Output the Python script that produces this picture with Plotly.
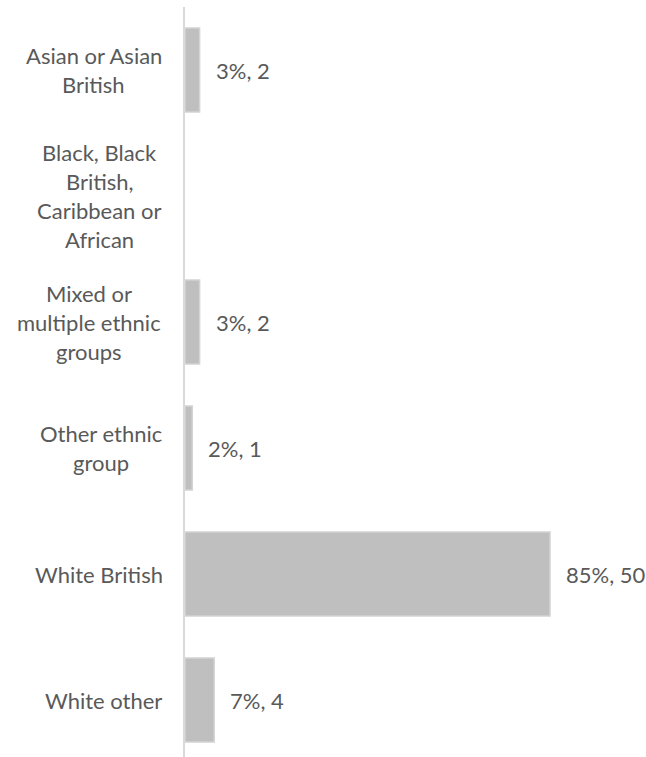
import plotly.graph_objects as go

categories = [
    ["Asian or Asian", "British"],
    ["Black, Black", "British,", "Caribbean or", "African"],
    ["Mixed or", "multiple ethnic", "groups"],
    ["Other ethnic", "group"],
    ["White British"],
    ["White other"],
]
counts = [2, 0, 2, 1, 50, 4]

total = sum(counts)
pcts = [c / total * 100 for c in counts]
cat_keys = [" ".join(c) for c in categories]

W, H = 646, 757
L, T = 185, 7
plot_w = W - L
px_per_pct = 4.307
xmax = plot_w / px_per_pct
band = 126.0
first_center = 70.0
top_idx = -(first_center - T) / band
bot_idx = (H - first_center) / band

FONT = "Lato"
TXT = "#595959"
FS = 22

# horizontal pixel centres of the wrapped category label blocks
label_centres_px = [93.5, 99.5, 89, 101, 99, 103.5]

fig = go.Figure()
fig.add_trace(go.Bar(
    y=cat_keys, x=pcts, orientation="h",
    marker=dict(color="#BFBFBF",
                line=dict(color="#D4D4D4",
                          width=[0 if c == 0 else 1.5 for c in counts])),
    width=84 / band,
    hoverinfo="skip",
))

annotations = []
for key, pct, cnt in zip(cat_keys, pcts, counts):
    if cnt == 0:
        continue
    annotations.append(dict(
        x=pct, y=key, xref="x", yref="y", xanchor="left", yanchor="middle",
        xshift=14, text=f"{round(pct)}%, {cnt}", showarrow=False,
        font=dict(family=FONT, size=FS, color=TXT),
    ))

for key, lines, cx in zip(cat_keys, categories, label_centres_px):
    n = len(lines)
    for k, s in enumerate(lines):
        annotations.append(dict(
            x=(cx - L) / plot_w, y=key, xref="paper", yref="y",
            xanchor="center", yanchor="middle",
            yshift=-(k - (n - 1) / 2) * 29,
            text=s, showarrow=False,
            font=dict(family=FONT, size=FS, color=TXT),
        ))

fig.update_layout(
    width=W, height=H,
    margin=dict(l=L, r=0, t=T, b=0),
    paper_bgcolor="white", plot_bgcolor="white",
    showlegend=False,
    annotations=annotations,
    xaxis=dict(range=[0, xmax], showgrid=False, zeroline=False,
               showticklabels=False, showline=False, fixedrange=True),
    yaxis=dict(categoryorder="array", categoryarray=cat_keys,
               range=[bot_idx, top_idx], showgrid=False, zeroline=False,
               showticklabels=False, showline=True, linecolor="#D9D9D9",
               linewidth=2, ticks="", fixedrange=True),
)

fig.write_html("out.html", config={"displayModeBar": False},
               post_script="document.body.style.margin='0';document.body.style.overflow='hidden';")
